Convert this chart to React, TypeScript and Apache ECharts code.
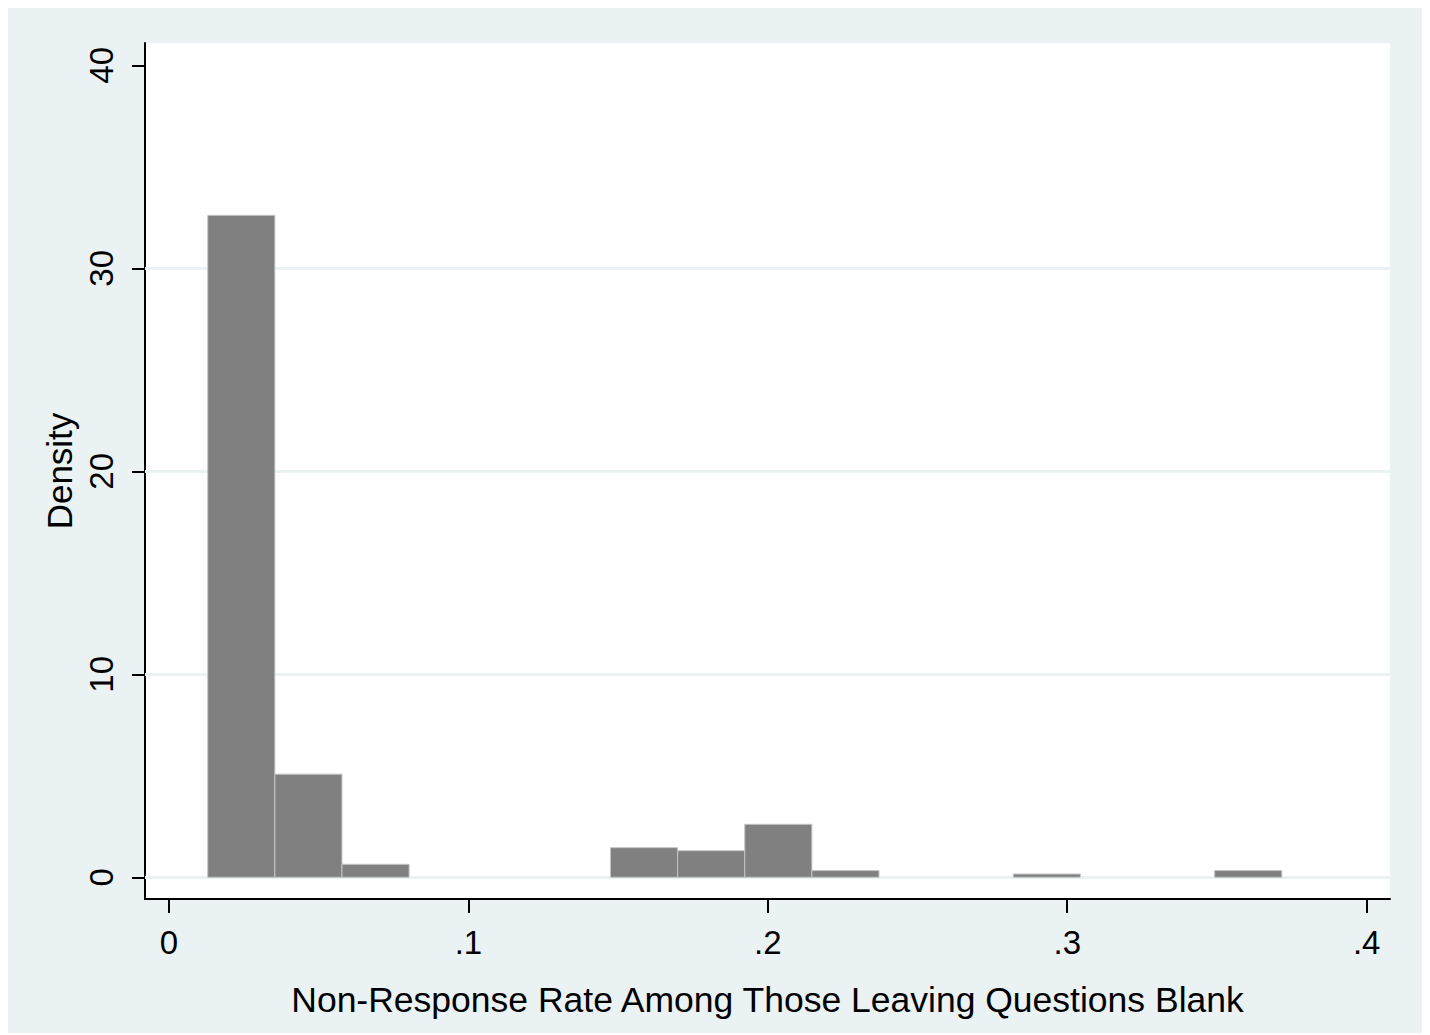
import React, { useEffect, useRef } from "react";
import * as echarts from "echarts";

// Histogram bins (Stata-style): start, width, densities
const binStart = 0.01293;
const binWidth = 0.02242;
const densities = [32.61, 5.08, 0.64, 0, 0, 0, 1.46, 1.31, 2.61, 0.33, 0, 0, 0.16, 0, 0, 0.33];
const xTicks = [0, 0.1, 0.2, 0.3, 0.4];
const yTicks = [0, 10, 20, 30, 40];
const gridValues = [0, 10, 20, 30];
const xTitle = "Non-Response Rate Among Those Leaving Questions Blank";
const yTitle = "Density";

const FONT = "'Liberation Sans', Arial, sans-serif";

export default function App() {
  const ref = useRef<HTMLDivElement>(null);
  useEffect(() => {
    if (!ref.current) return;
    const chart = echarts.init(ref.current, undefined, { renderer: "svg" });
    const data = densities.map((d, i) => [binStart + i * binWidth, binStart + (i + 1) * binWidth, d]);
    chart.setOption({
      animation: false,
      backgroundColor: "#eaf2f3",
      textStyle: { fontFamily: FONT },
      grid: {
        left: 137,
        top: 36,
        right: 36,
        bottom: 134,
        show: true,
        backgroundColor: "#ffffff",
        borderWidth: 0,
      },
      xAxis: {
        type: "value",
        min: -0.00802,
        max: 0.4078,
        name: xTitle,
        nameLocation: "middle",
        nameGap: 83,
        nameTextStyle: { fontSize: 35.5, color: "#000", fontFamily: FONT },
        axisLine: { show: true, onZero: false, lineStyle: { color: "#000", width: 2 } },
        axisTick: { show: true, length: 14, lineStyle: { color: "#000", width: 2 }, customValues: xTicks },
        axisLabel: {
          show: true,
          customValues: xTicks,
          margin: 27,
          fontSize: 33,
          color: "#000",
          fontFamily: FONT,
          formatter: (v: number) => (v === 0 ? "0" : v.toFixed(1).replace(/^0/, "")),
        },
        splitLine: { show: false },
      },
      yAxis: {
        type: "value",
        min: -1.07,
        max: 41.1,
        name: yTitle,
        nameLocation: "middle",
        nameGap: 65,
        nameRotate: 90,
        nameTextStyle: { fontSize: 35, color: "#000", fontFamily: FONT },
        axisLine: { show: true, onZero: false, lineStyle: { color: "#000", width: 2 } },
        axisTick: { show: true, length: 13, lineStyle: { color: "#000", width: 2 }, customValues: yTicks },
        axisLabel: {
          show: true,
          customValues: yTicks,
          rotate: 90,
          margin: 27,
          fontSize: 33,
          color: "#000",
          fontFamily: FONT,
          formatter: (v: number) => String(Math.round(v)),
        },
        splitLine: { show: false },
      },
      series: [
        {
          type: "line",
          data: [],
          z: 1,
          silent: true,
          markLine: {
            z: 1,
            silent: true,
            symbol: ["none", "none"],
            label: { show: false },
            lineStyle: { color: "#eaf2f3", width: 3, type: "solid" },
            data: gridValues.map((v) => ({ yAxis: v })),
          },
        },
        {
          type: "custom",
          z: 10,
          silent: true,
          data,
          encode: { x: [0, 1], y: 2 },
          renderItem: (params: any, api: any) => {
            const x0 = api.value(0);
            const x1 = api.value(1);
            const d = api.value(2);
            if (!d) return null;
            const p0 = api.coord([x0, d]);
            const p1 = api.coord([x1, 0]);
            return {
              type: "rect",
              shape: { x: p0[0], y: p0[1], width: p1[0] - p0[0], height: p1[1] - p0[1] },
              style: { fill: "#808080", stroke: "#c4c4c4", lineWidth: 1 },
            };
          },
        },
      ],
    });
    return () => chart.dispose();
  }, []);
  return <div ref={ref} style={{ width: 1418, height: 1026, marginTop: -1 }} />;
}
